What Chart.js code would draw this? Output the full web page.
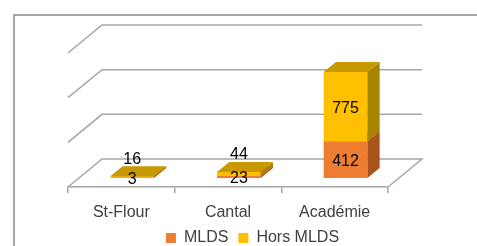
<!DOCTYPE html>
<html>
<head>
<meta charset="utf-8">
<script src="https://cdn.jsdelivr.net/npm/chart.js@4/dist/chart.umd.min.js"></script>
<style>
  html, body { margin: 0; background: #fff; }
  #wrap { width: 477px; height: 246px; }
</style>
</head>
<body>
<div id="wrap"><canvas id="chart"></canvas></div>
<script>
const categories = ["St-Flour", "Cantal", "Académie"];
const mlds = [3, 23, 412];
const horsMlds = [16, 44, 775];
const yTicks = [0, 500, 1000, 1500];

const FONT = "'Liberation Sans', Arial, sans-serif";
const GRID = "#a6a6a6";
// oblique depth of the 3D box, and where the bars sit inside it
const DEPTH = { x: 34, y: -28 };
const BAR_FRONT = 0.32;
const BAR_BACK = 0.68;

const faces = [
  { front: "#ED7D31", side: "#A9541F", top: "#C8682A" },
  { front: "#FFC000", side: "#A88300", top: "#C89800" }
];

function poly(ctx, pts, fill) {
  ctx.beginPath();
  ctx.moveTo(pts[0][0], pts[0][1]);
  for (let i = 1; i < pts.length; i++) ctx.lineTo(pts[i][0], pts[i][1]);
  ctx.closePath();
  ctx.fillStyle = fill;
  ctx.fill();
}

const box3d = {
  id: "box3d",
  beforeDraw(chart) {
    const ctx = chart.ctx;
    ctx.save();
    ctx.strokeStyle = GRID;
    ctx.lineWidth = 2;
    ctx.strokeRect(14, 15, 600, 400);
    ctx.restore();
  },
  beforeDatasetsDraw(chart) {
    const { ctx, chartArea: a, scales: { y } } = chart;
    ctx.save();
    ctx.strokeStyle = GRID;
    ctx.lineWidth = 1.5;
    yTicks.forEach(v => {
      const py = y.getPixelForValue(v);
      ctx.beginPath();
      ctx.moveTo(a.left, py);
      ctx.lineTo(a.left + DEPTH.x, py + DEPTH.y);
      ctx.lineTo(a.right + DEPTH.x, py + DEPTH.y);
      if (v === 0) ctx.lineTo(a.right, py);
      ctx.stroke();
    });

    const dx = (BAR_BACK - BAR_FRONT) * DEPTH.x;
    const dy = (BAR_BACK - BAR_FRONT) * DEPTH.y;
    categories.forEach((_, j) => {
      chart.data.datasets.forEach((ds, i) => {
        const el = chart.getDatasetMeta(i).data[j];
        const x0 = el.x - el.width / 2 + BAR_FRONT * DEPTH.x;
        const x1 = x0 + el.width;
        const yb = el.base + BAR_FRONT * DEPTH.y;
        const yt = el.y + BAR_FRONT * DEPTH.y;
        const c = faces[i];
        poly(ctx, [[x0, yb], [x1, yb], [x1, yt], [x0, yt]], c.front);
        poly(ctx, [[x1, yb], [x1 + dx, yb + dy], [x1 + dx, yt + dy], [x1, yt]], c.side);
        poly(ctx, [[x0, yt], [x1, yt], [x1 + dx, yt + dy], [x0 + dx, yt + dy]], c.top);
      });
    });
    ctx.restore();
    return false;
  },
  afterDraw(chart) {
    const ctx = chart.ctx;
    const n = chart.data.datasets.length;
    ctx.save();
    ctx.font = "16px " + FONT;
    ctx.textAlign = "center";
    ctx.textBaseline = "middle";
    ctx.fillStyle = "#000";
    categories.forEach((_, j) => {
      chart.data.datasets.forEach((ds, i) => {
        const el = chart.getDatasetMeta(i).data[j];
        const cx = el.x + BAR_FRONT * DEPTH.x;
        let cy = (el.y + el.base) / 2 + BAR_FRONT * DEPTH.y + 2;
        // too thin to hold the label: put it above the bar
        if (i === n - 1 && el.base - el.y < 16) cy = el.y + BAR_BACK * DEPTH.y - 7;
        ctx.fillText(ds.data[j], cx, cy);
      });
    });
    ctx.restore();
  }
};

new Chart(document.getElementById("chart"), {
  type: "bar",
  data: {
    labels: categories,
    datasets: [
      { label: "MLDS", data: mlds, backgroundColor: faces[0].front, barPercentage: 0.41, categoryPercentage: 1 },
      { label: "Hors MLDS", data: horsMlds, backgroundColor: faces[1].front, barPercentage: 0.41, categoryPercentage: 1 }
    ]
  },
  options: {
    responsive: true,
    maintainAspectRatio: false,
    animation: false,
    devicePixelRatio: 1,
    layout: { padding: { left: 68, right: 40, top: 53, bottom: -10 } },
    plugins: {
      legend: {
        position: "bottom",
        labels: {
          boxWidth: 10,
          boxHeight: 10,
          padding: 10,
          color: "#404040",
          font: { family: FONT, size: 16 }
        }
      },
      tooltip: { enabled: false }
    },
    scales: {
      x: {
        stacked: true,
        grid: { drawOnChartArea: false, color: GRID, lineWidth: 1.5, tickLength: 6 },
        border: { color: GRID, width: 1.5 },
        ticks: { color: "#404040", padding: 10, font: { family: FONT, size: 16 } },
        afterFit(s) { s.height = 33; }
      },
      y: {
        stacked: true,
        position: "right",
        min: 0,
        max: 1500,
        ticks: { display: false, stepSize: 500 },
        grid: { display: false },
        border: { display: false },
        afterFit(s) { s.width = 49; }
      }
    }
  },
  plugins: [box3d]
});
</script>
</body>
</html>
